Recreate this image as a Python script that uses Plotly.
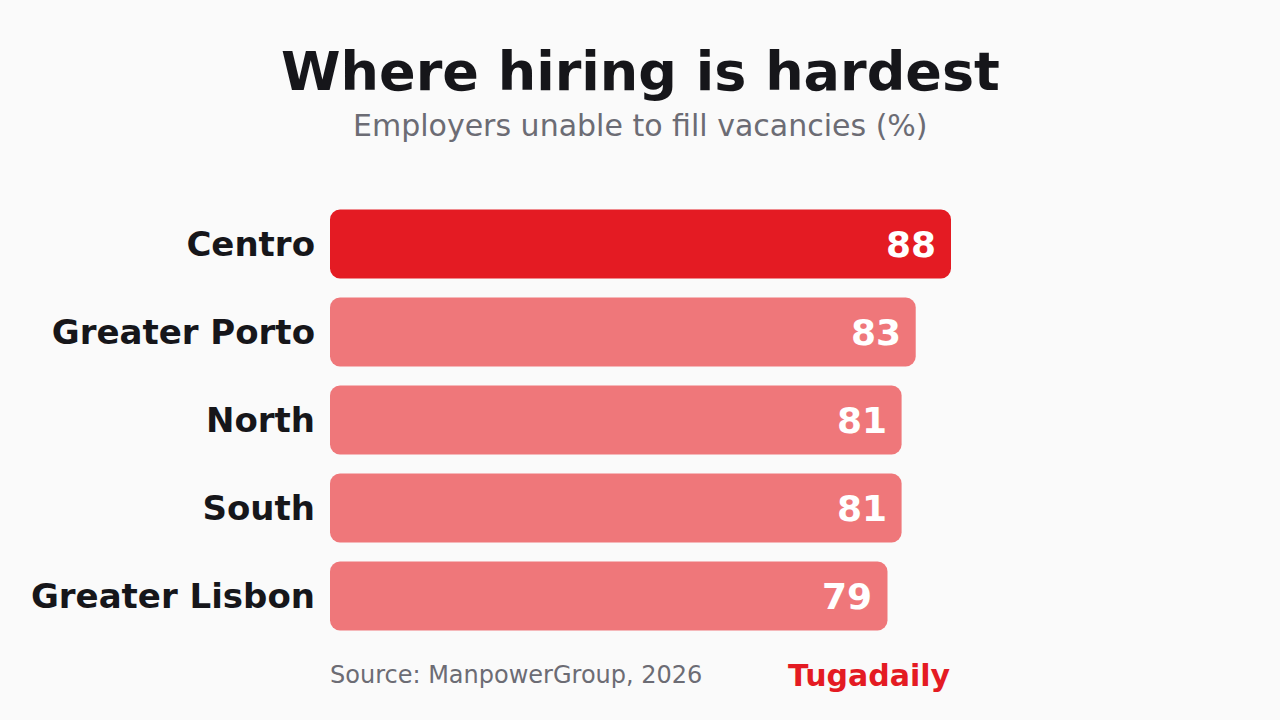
import plotly.graph_objects as go

# data
regions = ["Centro", "Greater Porto", "North", "South", "Greater Lisbon"]
shares = [88, 83, 81, 81, 79]
highlight = "Centro"

RED = "#e41b23"
PINK = "#ef777a"
INK = "#16161a"
GREY = "#6c6c74"
BG = "#fafafa"

bar_colors = [RED if r == highlight else PINK for r in regions]

# an explicit base makes plotly round both ends of each bar
fig = go.Figure(go.Bar(
    x=shares, base=[0] * len(shares),
    y=regions, orientation="h",
    marker=dict(color=bar_colors, line=dict(width=0)),
    hoverinfo="skip",
))

# value labels inside the bar ends
for r, v in zip(regions, shares):
    fig.add_annotation(
        x=v, y=r, xref="x", yref="y",
        text=str(v), showarrow=False,
        xanchor="right", xshift=-13,
        font=dict(family="DejaVu Sans", size=36, color="white", weight="bold"),
    )

# plot area runs from y=200 to y=640 px, helper for paper coords
def py(pix):
    return (640 - pix) / 440

fig.add_annotation(
    text="<b>Where hiring is hardest</b>", x=0.5, y=py(72),
    xref="paper", yref="paper", showarrow=False, xanchor="center", yanchor="middle",
    font=dict(family="DejaVu Sans", size=54, color=INK),
)
fig.add_annotation(
    text="Employers unable to fill vacancies (%)", x=0.5, y=py(126),
    xref="paper", yref="paper", showarrow=False, xanchor="center", yanchor="middle",
    font=dict(family="DejaVu Sans", size=30, color=GREY),
)
fig.add_annotation(
    text="Source: ManpowerGroup, 2026", x=0, y=py(675), xshift=-2,
    xref="paper", yref="paper", showarrow=False, xanchor="left", yanchor="middle",
    font=dict(family="DejaVu Sans", size=24, color=GREY),
)
fig.add_annotation(
    text="<b>Tugadaily</b>", x=1, y=py(675), xshift=2,
    xref="paper", yref="paper", showarrow=False, xanchor="right", yanchor="middle",
    font=dict(family="DejaVu Sans", size=30, color=RED),
)

fig.update_layout(
    width=1280, height=720,
    margin=dict(l=330, r=329, t=200, b=80),
    paper_bgcolor=BG, plot_bgcolor=BG,
    bargap=0.216,
    barcornerradius=10,
    showlegend=False,
    xaxis=dict(range=[0, 88], visible=False, fixedrange=True),
    yaxis=dict(
        autorange="reversed",
        showgrid=False, zeroline=False, showline=False, ticks="",
        ticklabelstandoff=14,
        tickfont=dict(family="DejaVu Sans", size=34, color=INK, weight="bold"),
        fixedrange=True,
    ),
)

# drop the default page margin so the figure sits at the window origin
fig.write_html(
    "out.html",
    config={"displayModeBar": False},
    post_script="document.body.style.margin='0';document.body.style.background='#fafafa';",
)
